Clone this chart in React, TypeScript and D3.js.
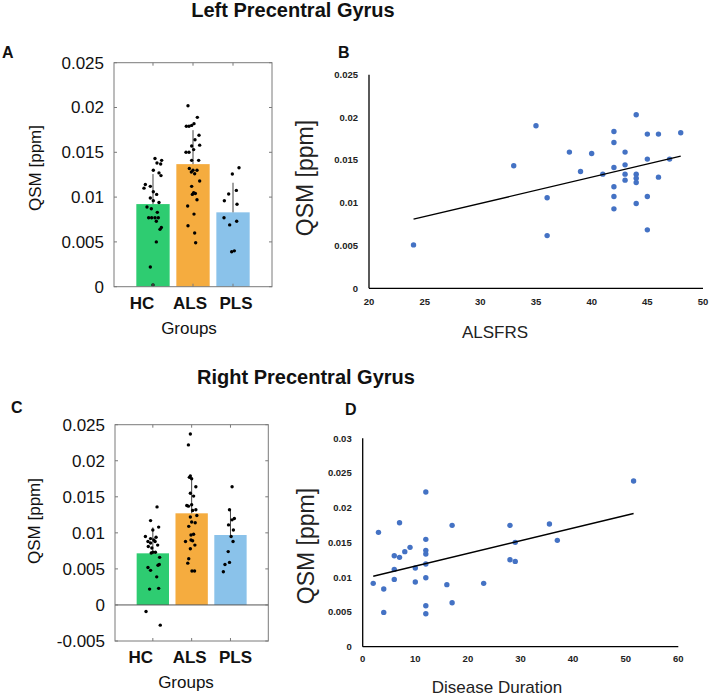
import React from "react";
import * as d3 from "d3";

// ---------- Data ----------
const GROUPS = ["HC", "ALS", "PLS"];
const GROUP_COLORS = ["#2ECC71", "#F5AC3F", "#8AC2EA"];

// Panel A (Left precentral gyrus, group bars)
const A_MEANS = [0.00922, 0.01368, 0.0083];
const A_SD = [0.00335, 0.00379, 0.0033];
const A_TICKS = [0, 0.005, 0.01, 0.015, 0.02, 0.025];
const A_HC = [0.0143, 0.0141, 0.0138, 0.0137, 0.013, 0.0127, 0.0124, 0.0114, 0.0112, 0.011, 0.0106, 0.0103, 0.0099, 0.0096, 0.0094, 0.0089, 0.0087, 0.0083, 0.0077, 0.0077, 0.0077, 0.0077, 0.0073, 0.0066, 0.0064, 0.005, 0.0022, 0.0002];
const A_HC_JIT = [0.06, 0.26, 0.12, 0.23, 0.01, 0.18, 0.24, -0.23, -0.08, -0.27, 0.01, 0.11, -0.08, 0.01, 0.18, -0.18, -0.05, 0.13, -0.13, -0.04, 0.06, 0.16, 0.1, 0.25, 0.21, 0.1, -0.08, 0];
const A_ALS = [0.0202, 0.0189, 0.0179, 0.0179, 0.018, 0.0182, 0.0169, 0.0164, 0.0157, 0.015, 0.015, 0.0158, 0.0153, 0.0141, 0.0141, 0.0132, 0.013, 0.013, 0.0128, 0.0126, 0.0118, 0.0112, 0.0105, 0.0103, 0.0104, 0.0097, 0.009, 0.0081, 0.0068, 0.006, 0.0049];
const A_ALS_JIT = [-0.15, 0.13, -0.2, -0.12, -0.04, 0.03, 0.18, 0.06, -0.04, -0.21, -0.12, 0.2, 0.02, -0.04, 0.17, -0.11, 0, 0.12, -0.05, 0.05, 0.2, -0.04, 0.02, -0.02, 0.07, 0.12, -0.16, 0.03, -0.15, 0.05, 0.08];
const A_PLS = [0.01328, 0.01257, 0.01034, 0.01075, 0.0096, 0.0092, 0.0077, 0.0073, 0.0069, 0.0039, 0.004];
const A_PLS_JIT = [0.18, -0.02, -0.13, 0.1, -0.26, 0.12, -0.27, 0.11, -0.1, -0.04, 0.04];

// Panel B (ALSFRS vs QSM)
const B_X = [24, 33, 35, 36, 36, 38, 39, 40, 41, 42, 42, 42, 42, 42, 42, 43, 43, 43, 43, 44, 44, 44, 44, 44, 45, 45, 45, 45, 46, 46, 47, 48];
const B_Y = [0.00508, 0.01434, 0.01902, 0.01059, 0.00617, 0.01594, 0.01367, 0.01578, 0.01336, 0.01836, 0.01707, 0.01414, 0.01188, 0.01074, 0.0093, 0.01594, 0.01445, 0.01336, 0.01266, 0.02031, 0.01336, 0.01289, 0.01238, 0.00992, 0.01805, 0.01512, 0.01074, 0.00684, 0.01805, 0.01301, 0.01512, 0.0182];
const B_FIT = { slope: 0.0003075, intercept: 0.00071 };
const B_XTICKS = [20, 25, 30, 35, 40, 45, 50];
const B_YTICKS = [0, 0.005, 0.01, 0.015, 0.02, 0.025];

// Panel C (Right precentral gyrus, group bars)
const C_MEANS = [0.00716, 0.01271, 0.0097];
const C_SD = [0.0036, 0.0046, 0.0035];
const C_TICKS = [-0.005, 0, 0.005, 0.01, 0.015, 0.02, 0.025];
const C_HC = [0.0136, 0.0117, 0.0108, 0.0104, 0.0095, 0.0094, 0.0092, 0.009, 0.0088, 0.0086, 0.0088, 0.0083, 0.0081, 0.0079, 0.0073, 0.0073, 0.0072, 0.0066, 0.0052, 0.0055, 0.0056, 0.0048, 0.0039, 0.0022, 0.0023, -0.0009, -0.0028];
const C_HC_JIT = [0.13, -0.07, 0.18, 0, -0.23, 0.1, -0.07, 0.03, -0.15, -0.07, 0.07, 0.15, -0.14, -0.03, 0, 0.08, -0.05, 0.21, -0.15, 0.16, 0.2, -0.07, 0.12, -0.1, 0.18, -0.21, 0.23];
const C_ALS = [0.0237, 0.0222, 0.0177, 0.0175, 0.0179, 0.0164, 0.0155, 0.0151, 0.0137, 0.0139, 0.0138, 0.0131, 0.0132, 0.0122, 0.0124, 0.0115, 0.0114, 0.0109, 0.0098, 0.0097, 0.0088, 0.009, 0.0089, 0.0083, 0.0078, 0.0064, 0.0058, 0.0047, 0.0047];
const C_ALS_JIT = [-0.04, -0.1, -0.07, 0, -0.04, 0.13, -0.04, 0.06, -0.1, 0, -0.15, 0.03, 0.13, -0.04, 0.16, 0, 0.11, -0.09, 0.06, -0.02, -0.19, -0.02, 0.03, 0.1, -0.04, -0.09, -0.12, 0.01, 0.09];
const C_PLS = [0.0164, 0.0132, 0.0118, 0.012, 0.0111, 0.0104, 0.0095, 0.0088, 0.0074, 0.0059, 0.0056, 0.0046];
const C_PLS_JIT = [0.05, -0.03, 0.05, 0.12, -0.06, 0.09, 0.02, 0.08, -0.07, -0.03, -0.17, -0.22];

// Panel D (Disease duration vs QSM)
const D_X = [2, 3, 4, 4, 6, 6, 6, 7, 7, 8, 9, 10, 10, 12, 12, 12, 12, 12, 12, 12, 12, 16, 17, 17, 23, 28, 28, 29, 29, 35.5, 37, 51.5];
const D_Y = [0.00912, 0.01646, 0.0083, 0.00494, 0.0131, 0.01113, 0.00969, 0.01785, 0.01286, 0.01368, 0.0143, 0.01133, 0.00931, 0.02227, 0.01545, 0.01387, 0.01334, 0.0119, 0.00993, 0.0059, 0.00475, 0.00893, 0.01747, 0.00633, 0.00912, 0.01747, 0.01252, 0.01502, 0.01228, 0.01766, 0.01531, 0.02385];
const D_FIT = { slope: 0.0001824, intercept: 0.00978 };
const D_XTICKS = [0, 10, 20, 30, 40, 50, 60];
const D_YTICKS = [0, 0.005, 0.01, 0.015, 0.02, 0.025, 0.03];

// ---------- Helpers ----------
const FONT = "'Liberation Sans', Arial, sans-serif";
const fmt = (v: number) => String(+v.toFixed(3));

type BarProps = {
  x0: number; x1: number; y0: number; y1: number;
  yDomain: [number, number]; yTicks: number[];
  means: number[]; sds: number[];
  points: number[][]; jitter: number[][];
  labelDx: number[]; labelY: number;
  groupsX: number; groupsY: number;
  qsmX: number; qsmY: number;
};

function BarPanel(p: BarProps) {
  const x = d3.scaleBand<string>().domain(GROUPS).range([p.x0, p.x1]).paddingInner(0.167).paddingOuter(0.558);
  const y = d3.scaleLinear().domain(p.yDomain).range([p.y1, p.y0]);
  const bw = x.bandwidth();
  const base = y(0);
  const boxColor = "#7a7a7a";
  return (
    <g>
      {GROUPS.map((g, i) => (
        <rect key={g} x={x(g)} y={y(p.means[i])} width={bw} height={base - y(p.means[i])} fill={GROUP_COLORS[i]} />
      ))}
      {p.yDomain[0] < 0 && (
        <line x1={p.x0} x2={p.x1} y1={base} y2={base} stroke="#555" strokeWidth={1} />
      )}
      {GROUPS.map((g, i) => {
        const cx = (x(g) as number) + bw / 2;
        return (
          <line key={"e" + g} x1={cx} x2={cx} y1={y(p.means[i])} y2={y(p.means[i] + p.sds[i])} stroke="#444" strokeWidth={1} />
        );
      })}
      {GROUPS.map((g, i) => {
        const cx = (x(g) as number) + bw / 2;
        return p.points[i].map((v, j) => (
          <circle key={g + j} cx={cx + p.jitter[i][j] * bw} cy={y(v)} r={1.7} fill="#000" />
        ));
      })}
      <rect x={p.x0} y={p.y0} width={p.x1 - p.x0} height={p.y1 - p.y0} fill="none" stroke={boxColor} strokeWidth={1} />
      {p.yTicks.map((t) => (
        <g key={"t" + t}>
          <line x1={p.x0} x2={p.x0 + 3} y1={y(t)} y2={y(t)} stroke={boxColor} />
          <line x1={p.x1 - 3} x2={p.x1} y1={y(t)} y2={y(t)} stroke={boxColor} />
          <text x={p.x0 - 10} y={y(t)} dy="0.35em" textAnchor="end" fontSize={17} fontFamily={FONT} fill="#111">
            {fmt(t)}
          </text>
        </g>
      ))}
      {GROUPS.map((g, i) => {
        const cx = (x(g) as number) + bw / 2;
        return (
          <g key={"xt" + g}>
            <line x1={cx} x2={cx} y1={p.y0} y2={p.y0 + 3} stroke={boxColor} />
            <line x1={cx} x2={cx} y1={p.y1 - 3} y2={p.y1} stroke={boxColor} />
            <text x={cx + p.labelDx[i]} y={p.labelY} textAnchor="middle" fontSize={17} fontWeight="bold" fontFamily={FONT} fill="#111">
              {g}
            </text>
          </g>
        );
      })}
      <text x={p.groupsX} y={p.groupsY} textAnchor="middle" fontSize={17} fontFamily={FONT} fill="#111">Groups</text>
      <text transform={`translate(${p.qsmX},${p.qsmY}) rotate(-90)`} textAnchor="middle" fontSize={17} fontFamily={FONT} fill="#111">QSM [ppm]</text>
    </g>
  );
}

type ScatterProps = {
  x0: number; x1: number; y0: number; y1: number;
  xDomain: [number, number]; yDomain: [number, number];
  xTicks: number[]; yTicks: number[];
  xs: number[]; ys: number[]; fit: { slope: number; intercept: number };
  xLabel: string; xLabelX: number; xLabelY: number;
  qsmX: number; qsmY: number; xTickY: number;
};

function ScatterPanel(p: ScatterProps) {
  const x = d3.scaleLinear().domain(p.xDomain).range([p.x0, p.x1]);
  const y = d3.scaleLinear().domain(p.yDomain).range([p.y1, p.y0]);
  const [xmin, xmax] = d3.extent(p.xs) as [number, number];
  const line = d3.line<number>().x((d) => x(d)).y((d) => y(p.fit.intercept + p.fit.slope * d));
  return (
    <g>
      <line x1={p.x0} x2={p.x0} y1={p.y0} y2={p.y1} stroke="#000" strokeWidth={1.3} />
      <line x1={p.x0} x2={p.x1} y1={p.y1} y2={p.y1} stroke="#000" strokeWidth={1.3} />
      {p.yTicks.map((t) => (
        <text key={"y" + t} x={p.x0 - 11} y={y(t)} dy="0.35em" textAnchor="end" fontSize={9.5} fontWeight="bold" fontFamily={FONT} fill="#222">
          {fmt(t)}
        </text>
      ))}
      {p.xTicks.map((t) => (
        <text key={"x" + t} x={x(t)} y={p.xTickY} textAnchor="middle" fontSize={9.5} fontWeight="bold" fontFamily={FONT} fill="#222">
          {t}
        </text>
      ))}
      {p.xs.map((v, i) => (
        <circle key={i} cx={x(v)} cy={y(p.ys[i])} r={2.7} fill="#4472C4" />
      ))}
      <path d={line([xmin, xmax]) as string} stroke="#000" strokeWidth={1.4} fill="none" />
      <text x={p.xLabelX} y={p.xLabelY} textAnchor="middle" fontSize={17} fontFamily={FONT} fill="#222">{p.xLabel}</text>
      <text transform={`translate(${p.qsmX},${p.qsmY}) rotate(-90)`} textAnchor="middle" fontSize={23} fontFamily={FONT} fill="#222">QSM [ppm]</text>
    </g>
  );
}

export default function App() {
  return (
    <svg width={709} height={697} style={{ position: "absolute", left: 0, top: 0, background: "#fff" }}>
      <rect x={0} y={0} width={709} height={697} fill="#fff" />
      <text x={293} y={17} textAnchor="middle" fontSize={20} fontWeight="bold" fontFamily={FONT} fill="#111">Left Precentral Gyrus</text>
      <text x={306} y={384} textAnchor="middle" fontSize={20} fontWeight="bold" fontFamily={FONT} fill="#111">Right Precentral Gyrus</text>
      <text x={2} y={58} fontSize={16} fontWeight="bold" fontFamily={FONT} fill="#111">A</text>
      <text x={338} y={58} fontSize={16} fontWeight="bold" fontFamily={FONT} fill="#111">B</text>
      <text x={11} y={413} fontSize={16} fontWeight="bold" fontFamily={FONT} fill="#111">C</text>
      <text x={345} y={415} fontSize={16} fontWeight="bold" fontFamily={FONT} fill="#111">D</text>

      <BarPanel
        x0={114} x1={272} y0={62.7} y1={286.7}
        yDomain={[0, 0.025]} yTicks={A_TICKS}
        means={A_MEANS} sds={A_SD}
        points={[A_HC, A_ALS, A_PLS]} jitter={[A_HC_JIT, A_ALS_JIT, A_PLS_JIT]}
        labelDx={[-11, -3, 3]} labelY={308.5}
        groupsX={189} groupsY={333.5}
        qsmX={41} qsmY={168}
      />
      <BarPanel
        x0={115} x1={268.3} y0={424.7} y1={641}
        yDomain={[-0.005, 0.025]} yTicks={C_TICKS}
        means={C_MEANS} sds={C_SD}
        points={[C_HC, C_ALS, C_PLS]} jitter={[C_HC_JIT, C_ALS_JIT, C_PLS_JIT]}
        labelDx={[-12, -2, 5]} labelY={662.5}
        groupsX={186} groupsY={688}
        qsmX={40} qsmY={521}
      />
      <ScatterPanel
        x0={369} x1={703} y0={74.7} y1={288.3}
        xDomain={[20, 50]} yDomain={[0, 0.025]}
        xTicks={B_XTICKS} yTicks={B_YTICKS}
        xs={B_X} ys={B_Y} fit={B_FIT}
        xLabel="ALSFRS" xLabelX={495} xLabelY={338}
        qsmX={313} qsmY={178} xTickY={305}
      />
      <ScatterPanel
        x0={362.7} x1={678.3} y0={438.3} y1={646.7}
        xDomain={[0, 60]} yDomain={[0, 0.03]}
        xTicks={D_XTICKS} yTicks={D_YTICKS}
        xs={D_X} ys={D_Y} fit={D_FIT}
        xLabel="Disease Duration" xLabelX={497} xLabelY={693}
        qsmX={314} qsmY={546} xTickY={662}
      />
    </svg>
  );
}
